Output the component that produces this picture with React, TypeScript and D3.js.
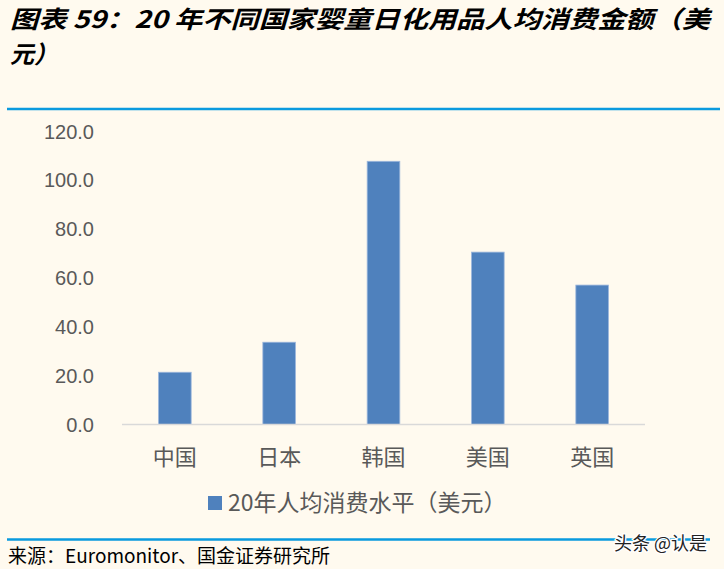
import { useMemo } from "react";
import * as d3 from "d3";

const countries = ["中国", "日本", "韩国", "美国", "英国"];
const spending = [21.4, 33.7, 107.8, 70.6, 57.1];
const yTicks = [0, 20, 40, 60, 80, 100, 120];
const seriesName = "20年人均消费水平（美元）";
const titleLine1 = "图表 59：20 年不同国家婴童日化用品人均消费金额（美";
const titleLine2 = "元）";
const sourceText = "来源：Euromonitor、国金证券研究所";

const W = 724;
const H = 569;
const CJK = "'Noto Sans CJK SC', 'Noto Sans', sans-serif";
const LATIN = "'Liberation Sans', 'Noto Sans CJK SC', sans-serif";

export default function App() {
  const x = useMemo(
    () =>
      d3
        .scaleBand<string>()
        .domain(countries)
        .range([122, 645])
        .paddingInner(0.687)
        .paddingOuter(0.35),
    []
  );
  const y = useMemo(
    () => d3.scaleLinear().domain([0, 120]).range([424.5, 131.5]),
    []
  );
  const fmt = d3.format(".1f");

  return (
    <svg
      width={W}
      height={H}
      viewBox={`0 0 ${W} ${H}`}
      style={{ position: "absolute", left: 0, top: 0, display: "block" }}
    >
      <rect width={W} height={H} fill="#fffaef" />

      {/* title */}
      <g
        fontFamily={CJK}
        fontWeight="bold"
        fontStyle="italic"
        fontSize={24}
        fill="#000"
      >
        <text x={10} y={28} textLength={700} lengthAdjust="spacingAndGlyphs">
          {titleLine1}
        </text>
        <text x={10} y={63}>
          {titleLine2}
        </text>
      </g>
      <line x1={7} x2={720} y1={109} y2={109} stroke="#0a9ade" strokeWidth={2.5} />

      {/* y axis labels */}
      <g fontFamily={LATIN} fontSize={20} fill="#595959" textAnchor="end">
        {yTicks.map((t) => (
          <text key={t} x={94} y={y(t)} dy="0.35em">
            {fmt(t)}
          </text>
        ))}
      </g>

      {/* bars */}
      {countries.map((c, i) => (
        <rect
          key={c}
          x={x(c)}
          y={y(spending[i])}
          width={x.bandwidth()}
          height={y(0) - y(spending[i])}
          fill="#4f81bd"
          stroke="#9db7dc"
          strokeWidth={0.8}
        />
      ))}

      <line
        x1={x.range()[0]}
        x2={x.range()[1]}
        y1={y(0)}
        y2={y(0)}
        stroke="#d9d9d9"
        strokeWidth={1.5}
      />

      {/* category labels */}
      <g fontFamily={CJK} fontSize={22} fill="#595959" textAnchor="middle">
        {countries.map((c) => (
          <text key={c} x={(x(c) ?? 0) + x.bandwidth() / 2} y={457} dy="0.35em">
            {c}
          </text>
        ))}
      </g>

      {/* legend */}
      <rect x={208} y={496} width={14} height={14} fill="#4f81bd" />
      <text
        x={228}
        y={503}
        dy="0.35em"
        fontFamily={CJK}
        fontSize={23}
        fill="#595959"
      >
        {seriesName}
      </text>

      {/* footer */}
      <line x1={7} x2={710} y1={539.5} y2={539.5} stroke="#0a9ade" strokeWidth={2.5} />
      <text x={8} y={556} dy="0.35em" fontFamily={CJK} fontSize={19} fill="#000">
        {sourceText}
      </text>
      <text
        x={707}
        y={544}
        dy="0.35em"
        textAnchor="end"
        fontFamily={CJK}
        fontSize={18}
        fill="#222"
        stroke="#fff"
        strokeWidth={2.5}
        paintOrder="stroke"
      >
        头条 @认是
      </text>
    </svg>
  );
}
